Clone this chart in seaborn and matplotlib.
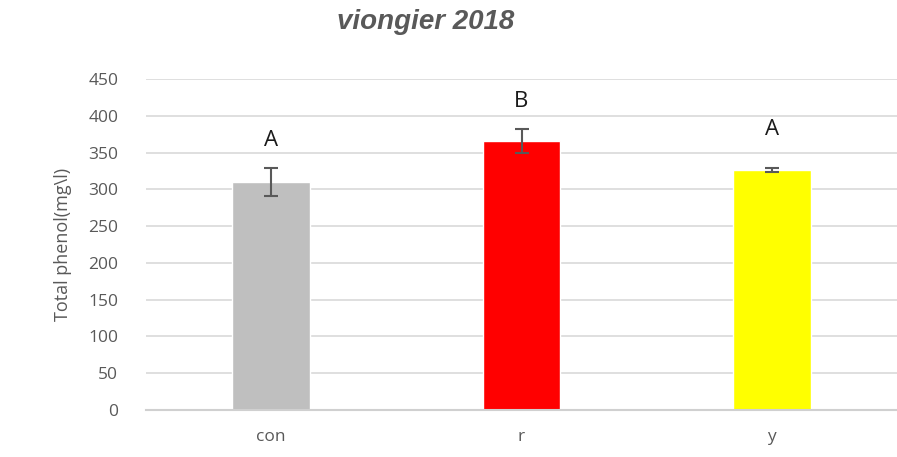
import matplotlib
matplotlib.use("Agg")
import matplotlib.pyplot as plt
import seaborn as sns
import pandas as pd

categories = ["con", "r", "y"]
means = [310, 366, 326]
errors = [19, 16, 3]
colors = ["#BFBFBF", "#FF0000", "#FFFF00"]
letters = ["A", "B", "A"]
letter_y = [367, 420, 381]
yticks = [0, 50, 100, 150, 200, 250, 300, 350, 400, 450]

sns.set_theme(style="white")
plt.rcParams['font.family'] = ['Open Sans', 'DejaVu Sans']

df = pd.DataFrame({"cat": categories, "val": means})

fig = plt.figure(figsize=(8.97, 4.57), dpi=100)
ax = fig.add_axes([0.1628, 0.1028, 0.8372, 0.7243])

sns.barplot(data=df, x="cat", y="val", hue="cat", palette=colors,
            width=0.31, ax=ax, legend=False, errorbar=None, saturation=1,
            zorder=2)

xpos = range(len(categories))
ax.errorbar(list(xpos), means, yerr=errors, fmt="none", ecolor="#595959",
            elinewidth=1.5, capsize=5, capthick=1.5, zorder=3)

for i, (lab, ly) in enumerate(zip(letters, letter_y)):
    ax.text(i, ly, lab, ha="center", va="center", fontsize=16, color="#1a1a1a")

ax.set_ylim(0, 450)
ax.set_xlim(-0.5, 2.5)
ax.set_yticks(yticks)
ax.yaxis.grid(True, color="#D9D9D9", linewidth=1.2, zorder=0)
ax.set_axisbelow(True)
for s in ["top", "right", "left"]:
    ax.spines[s].set_visible(False)
ax.spines["bottom"].set_color("#D0D0D0")
ax.spines["bottom"].set_linewidth(1.5)
ax.tick_params(axis="y", length=0, pad=20, labelsize=12.5, labelcolor="#595959")
ax.tick_params(axis="x", length=0, pad=14, labelsize=12.5, labelcolor="#595959")
ax.set_xlabel("")
ax.set_ylabel("Total phenol(mg\\l)", fontsize=13, color="#595959", labelpad=12)

fig.text(0.475, 0.952, "viongier 2018", ha="center", va="center",
         fontsize=20, fontweight="bold", fontstyle="italic", color="#595959",
         family=["Liberation Sans", "DejaVu Sans"])

fig.savefig("out.png", dpi=100)
